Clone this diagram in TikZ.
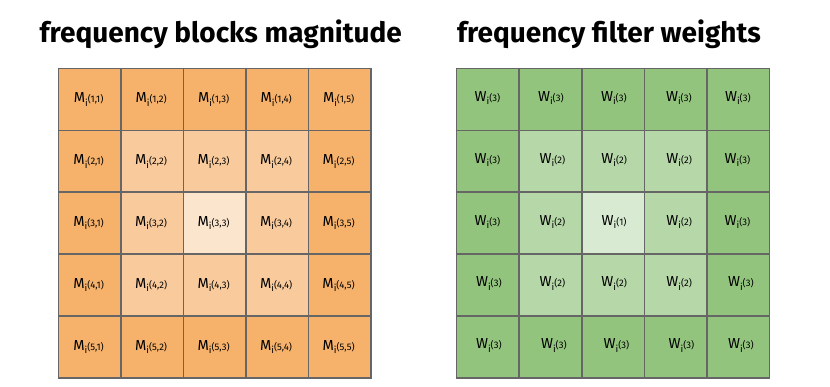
\documentclass[tikz,border=0pt]{standalone}
\usepackage{fontspec}
\setmainfont{Fira Sans}
\definecolor{or2}{HTML}{F6B26B}
\definecolor{or1}{HTML}{F9CB9C}
\definecolor{or0}{HTML}{FCE5CD}
\definecolor{gr2}{HTML}{93C47D}
\definecolor{gr1}{HTML}{B6D7A8}
\definecolor{gr0}{HTML}{D9EAD3}
\definecolor{gridgray}{HTML}{666666}
\newcommand{\smallidx}[1]{\raisebox{-3.4pt}{\fontsize{9.5}{9.5}\selectfont i}{\fontsize{9.5}{9.5}\selectfont #1}}
\begin{document}
\begin{tikzpicture}[x=1pt,y=-1pt,
  cell/.style={draw=gridgray, line width=1.6pt, minimum width=62.6pt, minimum height=61.9pt, inner sep=0pt, anchor=north west},
  lab/.style={inner sep=0pt, font=\fontsize{14.5}{15}\selectfont},
  title/.style={inner sep=0pt, anchor=base west, font=\fontsize{28}{30}\selectfont\bfseries}]
\useasboundingbox (0,0) rectangle (830,387);
\node[title] (t1) at (39.5,43) {frequency blocks magnitude};
\node[title] (t2) at (457,43) {frequency filter weights};
\foreach \r in {1,...,5} {
  \foreach \c in {1,...,5} {
    \pgfmathtruncatemacro\lv{max(abs(\r-3),abs(\c-3))}
    \node[cell, fill=or\lv] (m\r\c) at ({57.5+(\c-1)*62.5},{67.7+(\r-1)*61.9}) {};
    \node[lab] at ([xshift=-1pt]m\r\c.center) {M\smallidx{(\r,\c)}};
    \node[cell, fill=gr\lv] (w\r\c) at ({455.7+(\c-1)*62.6},{67.7+(\r-1)*61.9}) {};
  }
}
\foreach \r/\c/\dx in {1/1/-0.3,1/2/0.4,1/3/0.8,1/4/3.2,1/5/-0.4,
  2/1/-0.3,2/2/2.1,2/3/1.1,2/4/3.5,2/5/-0.7,
  3/1/-0.3,3/2/2.1,3/3/1.1,3/4/3.5,3/5/-0.7,
  4/1/1,4/2/2.1,4/3/1.1,4/4/3.5,4/5/2.6,
  5/1/1,5/2/3.4,5/3/3.5,5/4/5.9,5/5/2.6} {
  \pgfmathtruncatemacro\wn{max(abs(\r-3),abs(\c-3))+1}
  \node[lab] at ([xshift=\dx pt, yshift=1.5pt]w\r\c.center) {W\smallidx{(\wn)}};
}
\end{tikzpicture}
\end{document}
